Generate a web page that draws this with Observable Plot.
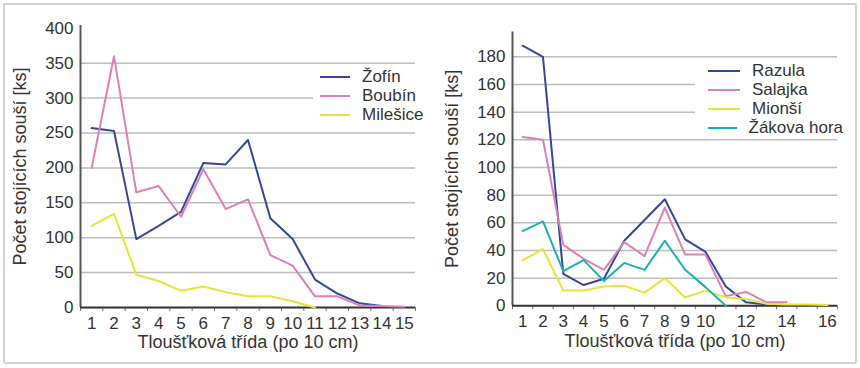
<!DOCTYPE html>
<html><head><meta charset="utf-8">
<script src="https://cdn.jsdelivr.net/npm/d3@7"></script>
<script src="https://cdn.jsdelivr.net/npm/@observablehq/plot@0.6"></script>
<style>
body{margin:0;background:#fff;font-family:"Liberation Sans",Arial,sans-serif;color:#333}
#wrap{position:relative;width:860px;height:368px;overflow:hidden;background:#fff}
#frame{position:absolute;left:3px;top:3px;width:854px;height:361px;box-sizing:border-box;border:2px solid #d2d2d2;border-radius:2px}
.panel{position:absolute;top:0}
.legend{position:absolute;background:#fff;font-size:17px;color:#333}
.legend .row{display:flex;align-items:center;height:19px;white-space:nowrap}
.legend .sw{display:inline-block;height:2px}
</style>
</head><body>
<div id="wrap">
  <div id="frame"></div>
  <div class="panel" id="left" style="left:0"></div>
  <div class="panel" id="right" style="left:430px"></div>
  <div class="legend" id="legL" style="left:313px;top:67px;width:115px;padding-left:7px"></div>
  <div class="legend" id="legR" style="left:695px;top:61px;width:135px;padding-left:13px"></div>
</div>
<script>
// ---- data (left panel) ----
const classesL = [1,2,3,4,5,6,7,8,9,10,11,12,13,14,15];
const seriesL = ["Žofín", "Boubín", "Milešice"];
const zofin    = [257, 253, 98, 117, 137, 207, 205, 240, 128, 98, 40, 20, 6, 2];
const boubin   = [200, 360, 165, 174, 130, 198, 141, 155, 75, 60, 16, 16, 3, 2, 1];
const milesice = [117, 134, 47, 38, 24, 30, 22, 16, 16, 9, 0];
const yTicksL  = [0, 50, 100, 150, 200, 250, 300, 350, 400];

// ---- data (right panel) ----
const classesR = [1,2,3,4,5,6,7,8,9,10,11,12,13,14,15,16];
const xLabelsR = [1,2,3,4,5,6,7,8,9,10,12,14,16];
const seriesR = ["Razula", "Salajka", "Mionší", "Žákova hora"];
const razula  = [188, 180, 23, 15, 19.5, 47, 62, 77, 48, 39, 14, 2.5, 1];
const salajka = [122, 120, 44, 34, 26, 46, 36, 71, 37, 37, 7, 10, 2.5, 2.5];
const mionsi  = [33, 41, 11, 11, 14, 14.5, 9.5, 20, 6, 11, 6, 5, 1.5, 1, 1, 0.5];
const zakova  = [54, 61, 25, 33, 18, 31, 26, 47, 26, 13.5, 0];
const yTicksR = [0, 20, 40, 60, 80, 100, 120, 140, 160, 180];

const xTitle = "Tloušťková třída (po 10 cm)";
const yTitle = "Počet stojících souší [ks]";

const colors = {
  "Žofín": "#34489b", "Boubín": "#dc80b5", "Milešice": "#ebe33a",
  "Razula": "#34489b", "Salajka": "#dc80b5", "Mionší": "#ebe33a", "Žákova hora": "#1eaeb3"
};

const font = "'Liberation Sans', Arial, sans-serif";

function panel({classes, xLabels, seriesNames, values, yTicks, yMax, margins}) {
  const n = classes.length;
  const bounds = d3.range(0, n + 1).map(i => i + 0.5);
  const grid = yTicks.filter(v => v > 0 && v < yMax - 5);
  return Plot.plot({
    width: 430, height: 368,
    ...margins,
    style: {fontFamily: font, fontSize: "17px", color: "#333", background: "transparent", overflow: "visible"},
    x: {domain: [0.5, n + 0.5]},
    y: {domain: [0, yMax]},
    marks: [
      Plot.gridY(grid, {stroke: "#bdbdbd", strokeOpacity: 1, strokeWidth: 1.5}),
      Plot.axisY(yTicks, {tickSize: 0, tickPadding: 7, label: null, fill: "#333"}),
      Plot.axisX(xLabels, {tickSize: 0, tickPadding: 9, label: null, fill: "#333", tickFormat: d => String(d)}),
      Plot.axisX(bounds, {tickSize: 4, tickPadding: 0, label: null, stroke: "#777", tickFormat: () => ""}),
      Plot.ruleX([0.5], {stroke: "#555", strokeWidth: 2}),
      Plot.ruleY([0], {stroke: "#333", strokeWidth: 2}),
      ...values.map((vals, k) => Plot.lineY(vals, {
        x: (d, i) => classes[i], y: d => d,
        stroke: colors[seriesNames[k]], strokeWidth: 2
      })),
      Plot.text([xTitle], {frameAnchor: "bottom", dy: 35, lineAnchor: "middle", textAnchor: "middle", fontSize: 18, fill: "#333"}),
      Plot.text([yTitle], {frameAnchor: "left", dx: -60, rotate: -90, lineAnchor: "middle", textAnchor: "middle", fontSize: 18, fill: "#333"})
    ]
  });
}

document.getElementById("left").append(panel({
  classes: classesL, xLabels: classesL, seriesNames: seriesL,
  values: [zofin, boubin, milesice], yTicks: yTicksL, yMax: 404,
  margins: {marginLeft: 80, marginRight: 15, marginTop: 25, marginBottom: 61}
}));
document.getElementById("right").append(panel({
  classes: classesR, xLabels: xLabelsR, seriesNames: seriesR,
  values: [razula, salajka, mionsi, zakova], yTicks: yTicksR, yMax: 198,
  margins: {marginLeft: 82, marginRight: 23, marginTop: 31.4, marginBottom: 62.7}
}));

function legend(el, names, swW, gap) {
  for (const name of names) {
    const row = document.createElement("div");
    row.className = "row";
    const sw = document.createElement("span");
    sw.className = "sw";
    sw.style.width = swW + "px";
    sw.style.background = colors[name];
    sw.style.marginRight = gap + "px";
    const t = document.createElement("span");
    t.textContent = name;
    row.append(sw, t);
    el.append(row);
  }
}
legend(document.getElementById("legL"), seriesL, 30, 12);
legend(document.getElementById("legR"), seriesR, 32, 12);
</script>
</body></html>
